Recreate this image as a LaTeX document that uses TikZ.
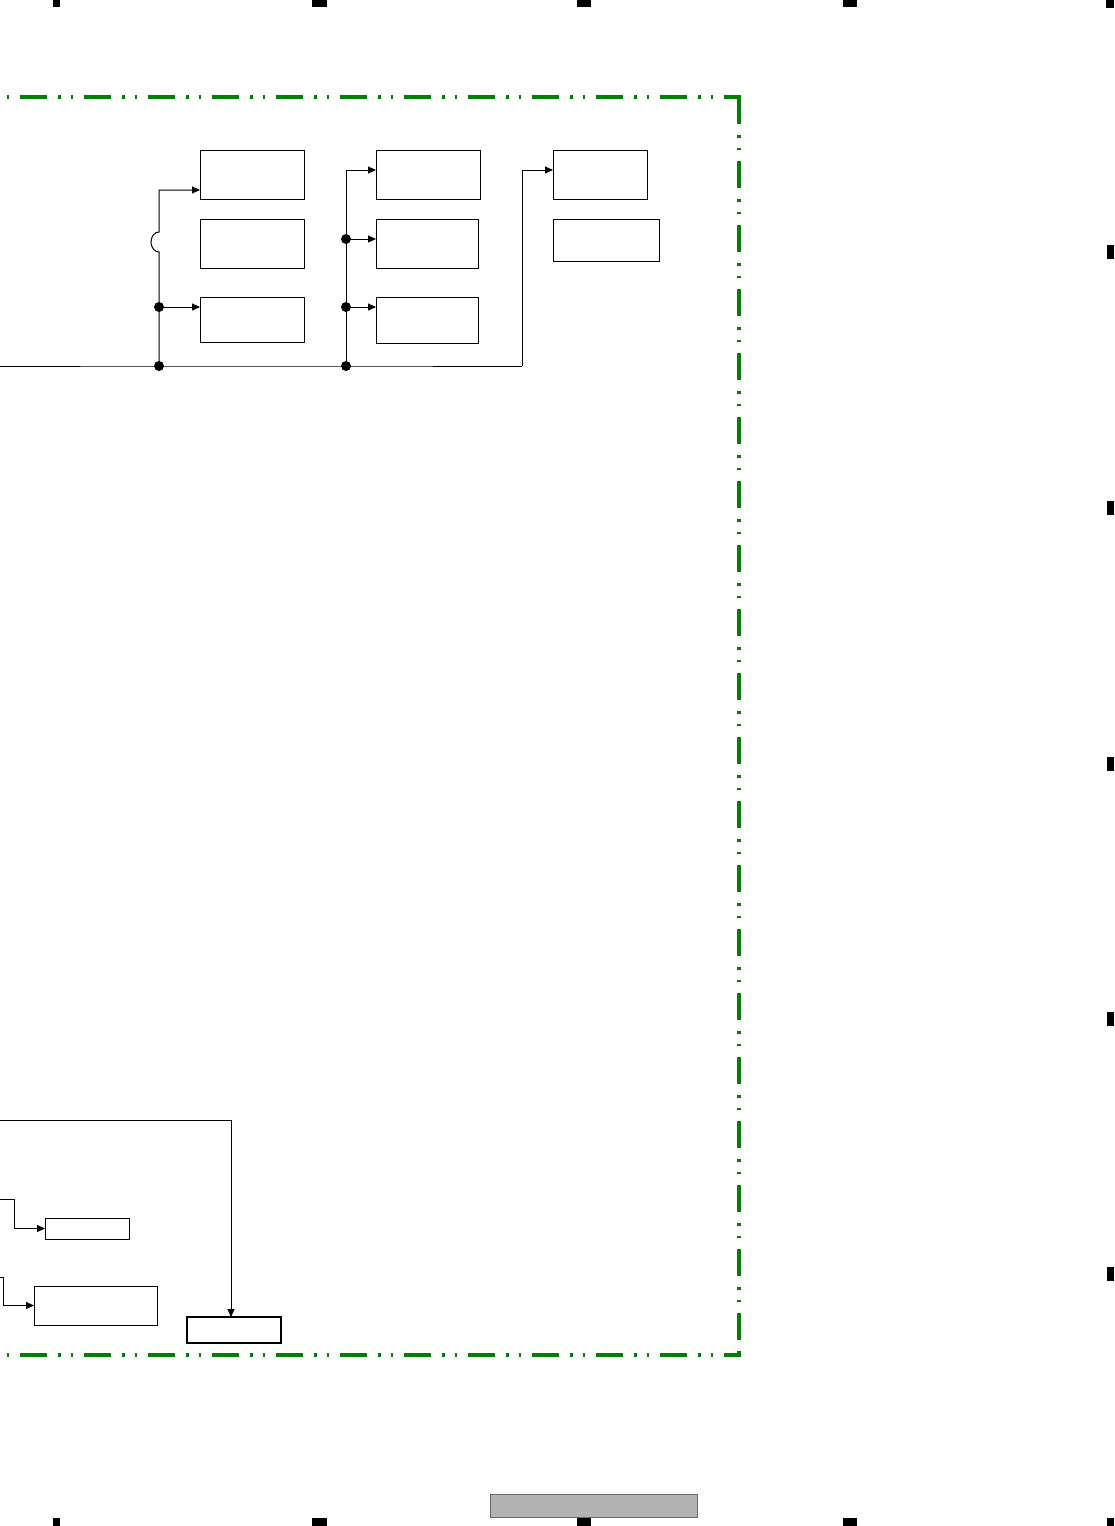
\documentclass[tikz,border=0pt]{standalone}
\usetikzlibrary{arrows.meta}
\definecolor{frmgreen}{RGB}{0,128,0}
\definecolor{pgfill}{RGB}{179,179,179}
\definecolor{pgdraw}{RGB}{105,105,105}
\begin{document}
\begin{tikzpicture}[x=1pt,y=1pt,
  blk/.style={draw, line width=1pt, inner sep=0pt, outer sep=0pt, anchor=north west},
  conn/.style={line width=1pt},
  arr/.style={conn, -{Triangle[length=8pt,width=7pt]}},
  jdot/.style={circle, fill=black, inner sep=0pt, minimum size=10pt},
  frm/.style={draw=frmgreen, line width=3.5pt, dash pattern=on 27pt off 11pt on 2.5pt off 10pt on 2.5pt off 11pt},
  regmark/.style={fill=black}]
\useasboundingbox (0,0) rectangle (1114,-1526);

% frame
\draw[frm, dash phase=44pt] (0,-97) -- (740.75,-97);
\draw[frm, dash phase=44pt] (0,-1355) -- (740.75,-1355);
\draw[frm] (739,-97) -- (739,-1355);

% boxes
\node[blk, minimum width=104pt, minimum height=49pt] (A) at (200,-150) {};
\node[blk, minimum width=104pt, minimum height=49pt] (B) at (200,-219) {};
\node[blk, minimum width=104pt, minimum height=45pt] (C) at (200,-297) {};
\node[blk, minimum width=104pt, minimum height=49pt] (D) at (376,-150) {};
\node[blk, minimum width=102pt, minimum height=49pt] (E) at (376,-219) {};
\node[blk, minimum width=102pt, minimum height=46pt] (F) at (376,-297) {};
\node[blk, minimum width=94pt, minimum height=49pt] (G) at (553,-150) {};
\node[blk, minimum width=106pt, minimum height=42pt] (H) at (553,-219) {};
\node[blk, minimum width=84pt, minimum height=21pt] (J) at (45,-1218) {};
\node[blk, minimum width=123pt, minimum height=39pt] (K) at (34,-1286) {};
\node[blk, line width=2.5pt, minimum width=94pt, minimum height=26pt] (I) at (187,-1317) {};

% junction dots
\node[jdot] (d1) at (159,-366) {};
\node[jdot] (d2) at (159,-307) {};
\node[jdot] (d3) at (346,-366) {};
\node[jdot] (d4) at (346,-307) {};
\node[jdot] (d5) at (346,-239) {};

\coordinate (busL) at (0,-366);
\coordinate (gb) at (522,-366);

% connectors
\draw[conn] (busL) -- (d1.center) -- (d3.center) -- (gb);
\draw[arr] (gb) |- ([yshift=-20pt]G.north west);
\draw[arr] (d1.center) -- (159,-252) arc[start angle=270, end angle=90, x radius=8, y radius=10] |- ([yshift=9pt]A.south west);
\draw[arr] (d2.center) -- ([yshift=-10pt]C.north west);
\draw[arr] (d3.center) |- ([yshift=-20pt]D.north west);
\draw[arr] (d5.center) -- ([yshift=-20pt]E.north west);
\draw[arr] (d4.center) -- ([yshift=-10pt]F.north west);

\coordinate (t1) at (0,-1120);
\coordinate (j0) at (0,-1199);
\coordinate (k0) at (0,-1277);
\draw[arr] (t1) -| ([xshift=-3pt]I.north);
\draw[arr] (j0) -- (14,-1199) |- (J.west);
\draw[arr] (k0) -- (3,-1277) |- (K.west);

% page label box
\node[draw=pgdraw, fill=pgfill, line width=1pt, inner sep=0pt, outer sep=0pt, anchor=north west, minimum width=207pt, minimum height=23pt] (pg) at (490,-1494) {};

% registration marks
\fill[regmark] (53,0) rectangle (60,-7);
\fill[regmark] (312,0) rectangle (327,-7);
\fill[regmark] (577,0) rectangle (591,-7);
\fill[regmark] (843,0) rectangle (857,-7);
\fill[regmark] (1106,0) rectangle (1114,-8);
\fill[regmark] (53,-1518) rectangle (60,-1526);
\fill[regmark] (312,-1518) rectangle (327,-1526);
\fill[regmark] (577,-1518) rectangle (591,-1526);
\fill[regmark] (843,-1518) rectangle (857,-1526);
\fill[regmark] (1107,-1518) rectangle (1114,-1526);
\foreach \yc in {252,508,764,1019,1274}
  \fill[regmark] (1107,-\yc+7) rectangle (1114,-\yc-7);
\end{tikzpicture}
\end{document}
